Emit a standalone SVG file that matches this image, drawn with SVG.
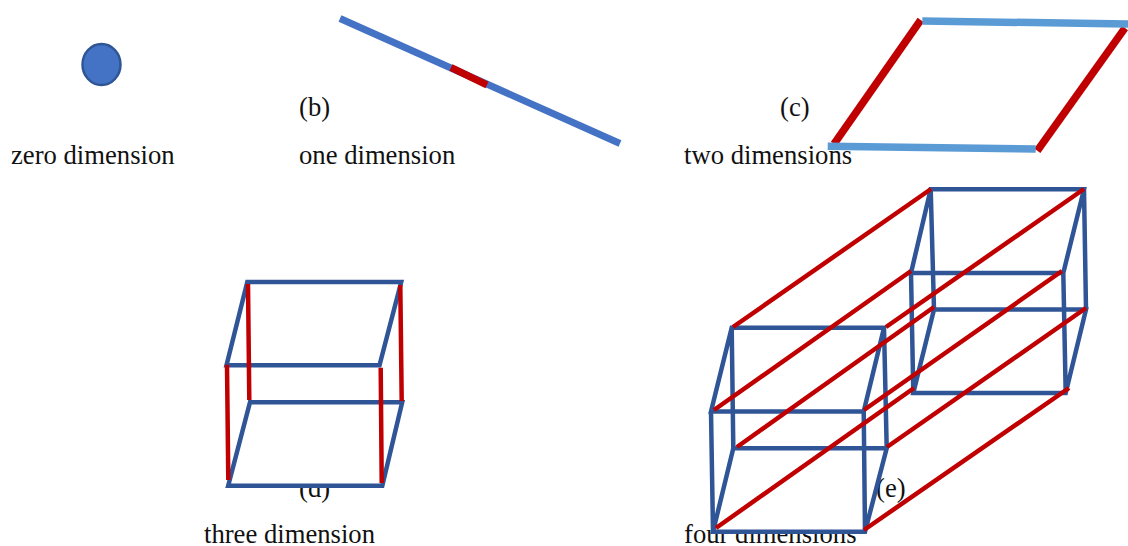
<svg xmlns="http://www.w3.org/2000/svg" width="1128" height="546" viewBox="0 0 1128 546">
<style>
.t{font-family:"Liberation Serif","Times New Roman",serif;font-size:26.67px;fill:#111}
.b{stroke:#2F5597;stroke-width:4.5;fill:none}
.r{stroke:#C00000;stroke-width:4.5;fill:none}
.r3{stroke:#C00000;stroke-width:4.5;fill:none}
.m{fill:#fff;stroke:none}
</style>
<rect width="1128" height="546" fill="#fff"/>
<g id="labels">
<text class="t" x="11" y="164">zero dimension</text>
<text class="t" x="299" y="116">(b)</text>
<text class="t" x="299" y="164">one dimension</text>
<text class="t" x="780" y="116">(c)</text>
<text class="t" x="684" y="164">two dimensions</text>
<text class="t" x="299" y="497">(d)</text>
<text class="t" x="204" y="543">three dimension</text>
<text class="t" x="876" y="497">(e)</text>
<text class="t" x="684" y="543">four dimensions</text>
</g>
<g id="zero">
<ellipse cx="101.500" cy="64.500" rx="19" ry="20.500" fill="#4472C4" stroke="#2F5597" stroke-width="2.500"/>
</g>
<g id="one">
<line x1="340" y1="18.500" x2="620" y2="143.500" stroke="#4472C4" stroke-width="7"/>
<line x1="451" y1="67.500" x2="487" y2="85" stroke="#C00000" stroke-width="7"/>
</g>
<g id="two">
<line x1="920.700" y1="20" x2="834" y2="144" stroke="#C00000" stroke-width="7.500"/>
<line x1="1125" y1="28" x2="1037.300" y2="150.700" stroke="#C00000" stroke-width="7.500"/>
<line x1="922.300" y1="21" x2="1128" y2="24" stroke="#5B9BD5" stroke-width="7.500"/>
<line x1="827.700" y1="146.300" x2="1035.700" y2="149" stroke="#5B9BD5" stroke-width="7.500"/>
</g>
<g id="three">
<polygon class="m" points="250,402.300 402.700,402.300 382.300,485.700 227.700,485.700"/>
<path class="b" d="M247.300 282H401.200L379.500 365.300H226.500ZM250 402.300H402.200L382.300 485.700H228.200Z"/>
<path class="r3" d="M248 284L249.300 400M400.300 285L401.700 401M227 364.700L228.300 480M380.700 367.700L381.700 483"/>
</g>
<g id="four">
<polygon class="m" points="733.300,448 886.700,448 865,531.700 713,531.700"/>
<path class="b" d="M731.700 327.800H884L863.700 411.500H711ZM733.300 448.300H886.700L865 531.700H713ZM731.700 327.300L733.300 448M884 327.300L886.700 448M711 411.300L713 531.700M863.700 411.300L865 531.700"/>
<path class="b" d="M930.700 189.300H1084L1063.300 273H911ZM934 309.500H1086L1065.700 393H913.300ZM930.700 189.300L934 309.300M1084 189.300L1086 309.300M911 273L913.300 393M1063.300 273L1065.700 393"/>
<path class="r" d="M733 327L931 189M714 410L911 271M886 327L1084 189M737 447L934 307M864 410L1062 271M716 528L914 388M887 447L1086 308M864 530L1069 388"/>
</g>
</svg>
